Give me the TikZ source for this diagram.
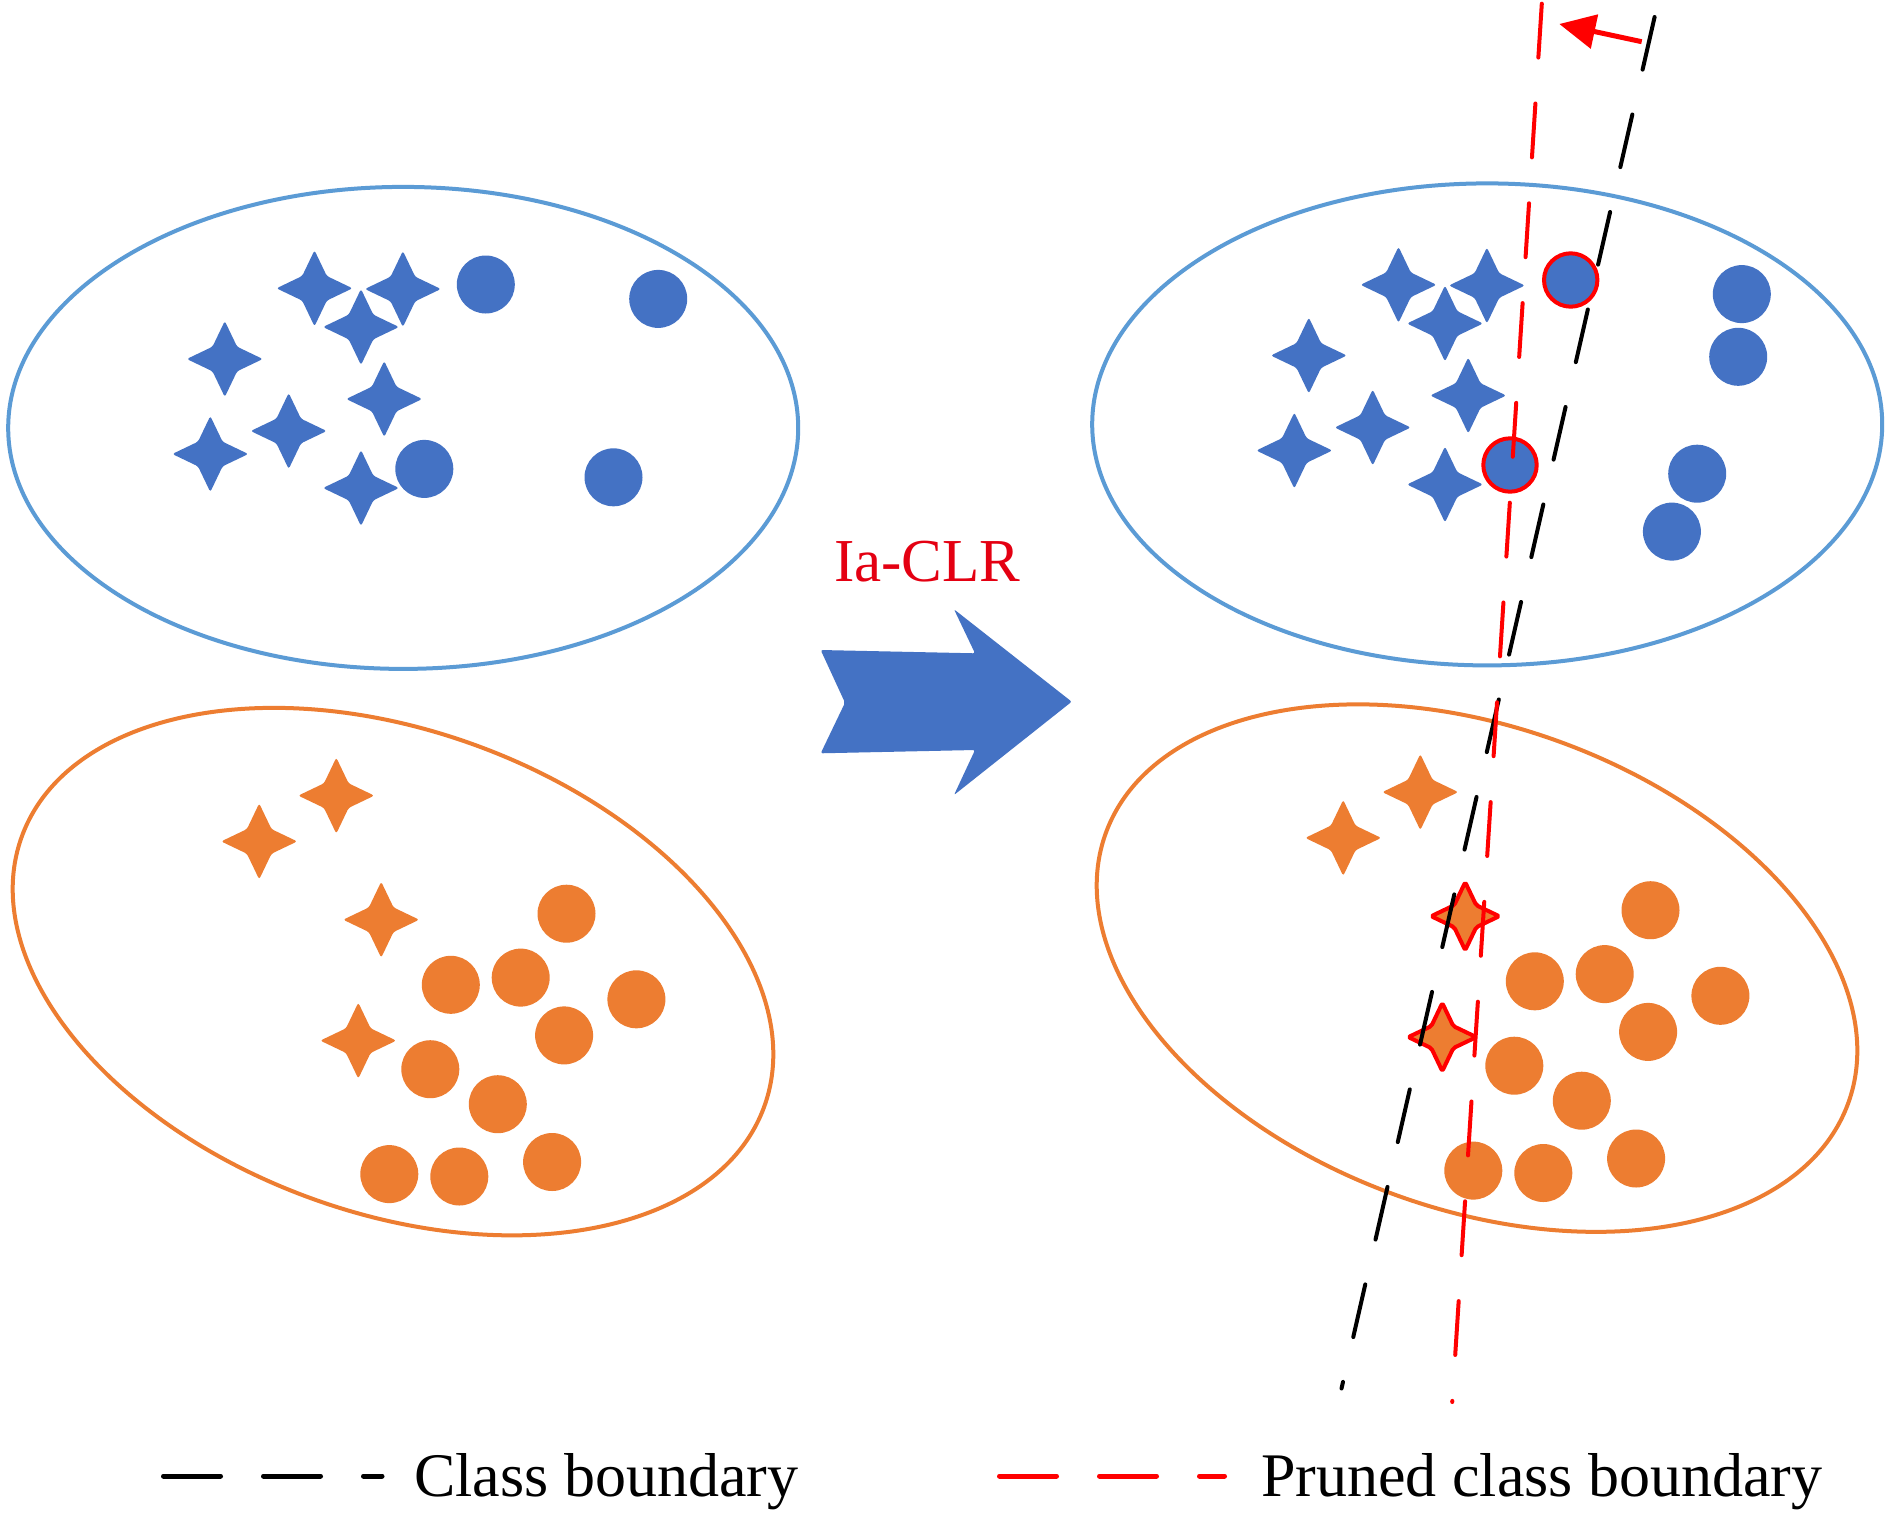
\documentclass[tikz,border=0pt]{standalone}
\usepackage{fontspec}
\setmainfont{Liberation Serif}
\usetikzlibrary{arrows.meta}
\definecolor{ellblue}{RGB}{91,155,213}
\definecolor{ellorange}{RGB}{237,125,49}
\definecolor{ptblue}{RGB}{68,114,196}
\definecolor{ptorange}{RGB}{237,125,49}
\definecolor{bred}{RGB}{255,0,0}
\definecolor{tred}{RGB}{228,0,18}
\tikzset{
  fourstar/.pic={
    \path[pic actions, rounded corners=2.5pt] (0,38) -- (12.3,12.3) -- (38,0) -- (12.3,-12.3)
      -- (0,-38) -- (-12.3,-12.3) -- (-38,0) -- (-12.3,12.3) -- cycle;
  },
  smallstar/.pic={
    \path[pic actions, rounded corners=2pt] (0,34) -- (11,11) -- (34,0) -- (11,-11)
      -- (0,-34) -- (-11,-11) -- (-34,0) -- (-11,11) -- cycle;
  },
  bluestar/.style={fill=ptblue},
  orangestar/.style={fill=ptorange},
  redstar/.style={fill=ptorange, draw=bred, line width=4pt, line join=round},
  ellb/.style={draw=ellblue, line width=4pt},
  ello/.style={draw=ellorange, line width=4pt},
  boundary/.style={line width=4pt, line cap=round, dash pattern=on 54pt off 46pt},
  legline/.style={line width=5pt, line cap=round, dash pattern=on 57pt off 43pt},
  legtext/.style={font=\fontsize{62pt}{70pt}\selectfont, inner sep=0pt, anchor=base west},
}
\newcommand{\bluepoints}{%
  \foreach \p in {(314.5,288.3),(402.9,289),(361,327),(224.8,359),(384.2,399),(288.7,431),(210.3,454),(361,488)}
    \pic[bluestar] at \p {fourstar};
}
\newcommand{\orangepoints}{%
  \foreach \p in {(336.3,795.6),(259.2,841.4)}
    \pic[orangestar] at \p {fourstar};
  \foreach \p in {(566.5,913.7),(520.7,977.6),(450.8,984.8),(636.4,999.3),(564.1,1035.4),(430.3,1069.2),(497.8,1104.2),(389.3,1174.1),(459.3,1176.5),(552.1,1162)}
    \fill[ptorange] \p circle (29);
}
\begin{document}
\begin{tikzpicture}[x=1pt,y=-1pt]
\useasboundingbox (0,0) rectangle (1890,1513);
\fill[white] (0,0) rectangle (1890,1513);

% ---------- left panel ----------
\draw[ellb] (403.2,427.9) ellipse [x radius=395, y radius=241];
\draw[ello, rotate around={-20:(393,971.6)}] (393,971.6) ellipse [x radius=395, y radius=241];
\bluepoints
\foreach \p in {(485.8,284.5),(658.2,298.9),(424.3,468.9),(613.5,477.3)}
  \fill[ptblue] \p circle (29);
\orangepoints
\foreach \p in {(381.2,919.7),(358.3,1040.6)}
  \pic[orangestar] at \p {fourstar};

% ---------- right panel ----------
\begin{scope}[shift={(1084,-3.5)}]
  \draw[ellb] (403.2,427.9) ellipse [x radius=395, y radius=241];
  \draw[ello, rotate around={-20:(393,971.6)}] (393,971.6) ellipse [x radius=395, y radius=241];
  \bluepoints
  \orangepoints
  \foreach \p in {(381.2,919.7),(358.3,1040.6)}
    \pic[redstar] at \p {smallstar};
\end{scope}
\foreach \p in {(1741.8,294.1),(1738.2,356.8),(1697.2,473.7),(1671.9,531.6)}
  \fill[ptblue] \p circle (29);
\foreach \p in {(1570.7,280),(1510,465)}
  \draw[fill=ptblue, draw=bred, line width=4pt] \p circle (26.7);

% ---------- big arrow and label ----------
\fill[ptblue, rounded corners=2pt] (820.7,650) -- (975,653.3) -- (954,609.3) -- (1071.7,701.7)
  -- (954,795) -- (975,750) -- (820.7,753.3) -- (845,702.7) -- cycle;
\node[legtext, font=\fontsize{61pt}{68pt}\selectfont, text=tred] (iaclr) at (834,581.7) {Ia-CLR};

% ---------- boundaries ----------
\coordinate (cbTop) at (1654.6,17);
\coordinate (cbBot) at (1341.5,1388.5);
\coordinate (pbTop) at (1541.8,3.7);
\coordinate (pbBot) at (1452.2,1402);
\draw[boundary, black] (cbTop) -- (cbBot);
\draw[boundary, bred] (pbTop) -- (pbBot);
\coordinate (arS) at (1641.7,41.7);
\coordinate (arE) at (1559.3,24);
\draw[bred, line width=5pt, -{Triangle[length=36pt,width=34pt]}] (arS) -- (arE);

% ---------- legend ----------
\coordinate (l1a) at (163.5,1476);
\coordinate (l1b) at (382,1476);
\draw[legline, black] (l1a) -- (l1b);
\node[legtext] (leg1) at (414,1496.5) {Class boundary};
\coordinate (l2a) at (999.5,1476);
\coordinate (l2b) at (1224.5,1476);
\draw[legline, bred] (l2a) -- (l2b);
\node[legtext] (leg2) at (1261,1496.5) {Pruned class boundary};
\end{tikzpicture}
\end{document}
